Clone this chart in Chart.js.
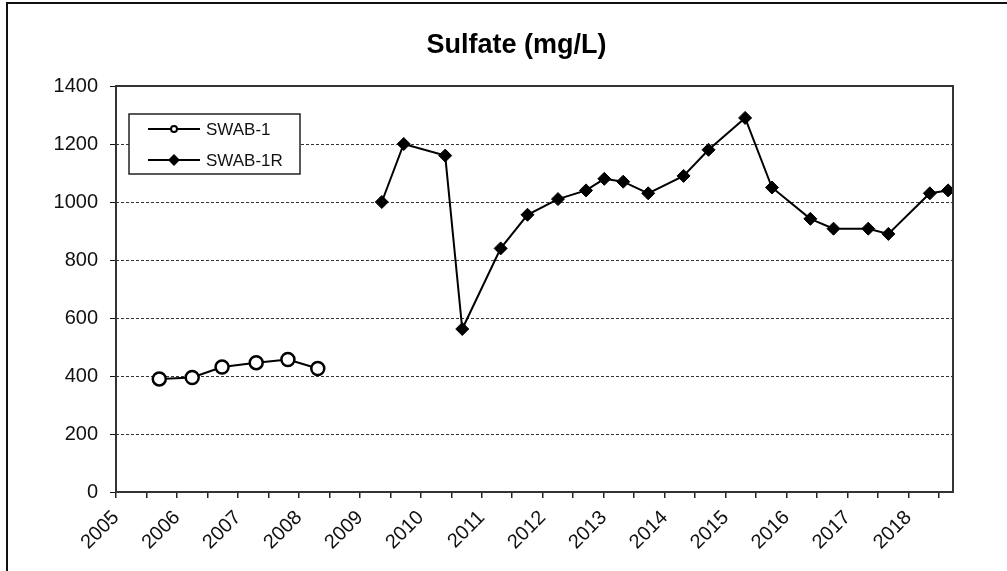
<!DOCTYPE html>
<html>
<head>
<meta charset="utf-8">
<script src="https://cdn.jsdelivr.net/npm/chart.js@4/dist/chart.umd.min.js"></script>
<style>
  body { margin: 0; background: #fff; }
  #wrap { width: 1007px; height: 571px; }
</style>
</head>
<body>
<div id="wrap"><canvas id="graph" width="1007" height="571"></canvas></div>
<script>
// data (decimal years)
const seriesNames = ["SWAB-1", "SWAB-1R"];
const swab1Dates = [2005.71, 2006.25, 2006.74, 2007.30, 2007.82, 2008.31];
const swab1Values = [390, 395, 431, 446, 457, 426];
const swab1rDates = [2009.36, 2009.72, 2010.40, 2010.68, 2011.31, 2011.75, 2012.25, 2012.71,
  2013.01, 2013.32, 2013.73, 2014.31, 2014.72, 2015.32, 2015.76, 2016.39, 2016.77,
  2017.34, 2017.67, 2018.35, 2018.65];
const swab1rValues = [1000, 1200, 1160, 562, 840, 956, 1010, 1040,
  1080, 1070, 1030, 1090, 1180, 1290, 1050, 942, 908,
  908, 890, 1030, 1040];
const yearLabels = ["2005", "2006", "2007", "2008", "2009", "2010", "2011",
  "2012", "2013", "2014", "2015", "2016", "2017", "2018"];
const yTickValues = [0, 200, 400, 600, 800, 1000, 1200, 1400];

const FONT = "'Liberation Sans', Arial, sans-serif";

function toPoints(xs, ys) {
  return xs.map((x, i) => ({ x: x, y: ys[i] }));
}

// white page, outer border and the plot frame
const framePlugin = {
  id: "frame",
  afterLayout(chart) {
    // the title sits a bit right of the page centre in the reference
    if (chart.titleBlock) chart.titleBlock.left += 80;
  },
  beforeDraw(chart) {
    const c = chart.ctx;
    c.save();
    c.fillStyle = "#fff";
    c.fillRect(0, 0, chart.width, chart.height);
    c.strokeStyle = "#111";
    c.lineWidth = 2;
    c.beginPath();
    c.moveTo(7, chart.height);
    c.lineTo(7, 3);
    c.lineTo(chart.width, 3);
    c.stroke();
    c.restore();
  },
  afterDraw(chart) {
    const a = chart.chartArea;
    const c = chart.ctx;
    c.save();
    c.strokeStyle = "#333";
    c.lineWidth = 2;
    c.strokeRect(a.left, a.top, a.right - a.left, a.bottom - a.top);
    c.restore();
  }
};

// boxed legend inside the plot, like the spreadsheet one
const boxLegend = {
  id: "boxLegend",
  afterDraw(chart) {
    const a = chart.chartArea;
    const c = chart.ctx;
    const x = a.left + 13, y = a.top + 28, w = 171, h = 60;
    c.save();
    c.fillStyle = "#fff";
    c.fillRect(x, y, w, h);
    c.strokeStyle = "#222";
    c.lineWidth = 1.5;
    c.strokeRect(x, y, w, h);
    chart.data.datasets.forEach((ds, i) => {
      const cy = y + 15 + i * 31;
      c.strokeStyle = "#000";
      c.lineWidth = 2;
      c.beginPath();
      c.moveTo(x + 19, cy);
      c.lineTo(x + 71, cy);
      c.stroke();
      c.fillStyle = ds.pointBackgroundColor;
      c.strokeStyle = "#000";
      c.lineWidth = 2;
      Chart.helpers.drawPoint(c, {
        pointStyle: ds.pointStyle,
        radius: ds.pointStyle === "circle" ? 3 : 4.5,
        borderWidth: 2
      }, x + 45, cy);
      c.fillStyle = "#111";
      c.font = "17px " + FONT;
      c.textBaseline = "middle";
      c.fillText(ds.label, x + 77, cy + 1);
    });
    c.restore();
  }
};

const ctx = document.getElementById("graph").getContext("2d");
new Chart(ctx, {
  type: "line",
  data: {
    datasets: [
      {
        label: seriesNames[0],
        data: toPoints(swab1Dates, swab1Values),
        borderColor: "#000",
        borderWidth: 2,
        pointStyle: "circle",
        pointRadius: 6.5,
        pointBorderWidth: 2.5,
        pointBorderColor: "#000",
        pointBackgroundColor: "#fff",
        tension: 0
      },
      {
        label: seriesNames[1],
        data: toPoints(swab1rDates, swab1rValues),
        borderColor: "#000",
        borderWidth: 2,
        pointStyle: "rectRot",
        pointRadius: 6.5,
        pointBorderWidth: 1,
        pointBorderColor: "#000",
        pointBackgroundColor: "#000",
        tension: 0
      }
    ]
  },
  options: {
    responsive: false,
    animation: false,
    devicePixelRatio: 1,
    layout: { padding: { left: 0, right: 54, top: 0, bottom: 0 } },
    plugins: {
      legend: { display: false },
      tooltip: { enabled: false },
      title: {
        display: true,
        text: "Sulfate (mg/L)",
        color: "#000",
        font: { family: FONT, size: 27, weight: "bold" },
        padding: { top: 29, bottom: 24.6 }
      }
    },
    scales: {
      x: {
        type: "linear",
        min: 2005,
        max: 2018.73,
        afterFit(scale) { scale.height = 79; },
        border: { display: false },
        grid: { drawOnChartArea: false, drawTicks: true, tickLength: 6, color: "#222", lineWidth: 1.5 },
        ticks: {
          stepSize: 0.5,
          includeBounds: false,
          autoSkip: false,
          minRotation: 45,
          maxRotation: 45,
          padding: 8,
          color: "#111",
          font: { family: FONT, size: 20 },
          callback(v) {
            const idx = v - 2005;
            return Number.isInteger(idx) && yearLabels[idx] ? yearLabels[idx] : "";
          }
        }
      },
      y: {
        min: 0,
        max: 1400,
        afterFit(scale) { scale.width = 116; },
        afterBuildTicks(scale) { scale.ticks = yTickValues.map(v => ({ value: v })); },
        border: { display: false, dash: [3, 2] },
        grid: { color: "#333", lineWidth: 1, tickLength: 6, tickColor: "#111" },
        ticks: {
          padding: 12,
          color: "#111",
          font: { family: FONT, size: 20 },
          callback(v) { return String(v); }
        }
      }
    }
  },
  plugins: [framePlugin, boxLegend]
});
</script>
</body>
</html>
